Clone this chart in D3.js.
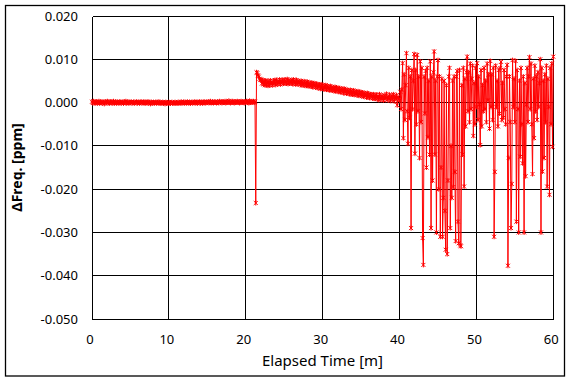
<!DOCTYPE html>
<html><head><meta charset="utf-8">
<script src="https://cdn.jsdelivr.net/npm/d3@7/dist/d3.min.js"></script>
<style>html,body{margin:0;padding:0;background:#fff;}svg{display:block;}</style>
</head><body>
<svg id="c" width="570" height="381"></svg>
<script>
// Sampling: one reading every 0.1 minute, starting at t = 0
const sampleStartMin = 0;
const sampleStepMin = 0.1;
// ΔFreq values in units of 0.001 ppm, one per sample (0.0 .. 60.0 min)
const dFreqMilliPpm = [
// 0-21.2 min : flat
0.2,-0.1,0.3,0.0,-0.2,0.1,0.2,-0.1,0.0,0.3,
-0.2,0.1,0.0,0.2,-0.1,0.1,-0.3,0.2,0.0,0.1,
0.3,-0.1,0.1,-0.2,0.2,0.0,0.1,-0.1,0.3,-0.2,
0.0,0.2,-0.1,0.1,0.0,-0.2,0.2,0.1,-0.1,0.0,
0.1,-0.2,0.2,0.0,0.3,-0.1,0.0,0.1,-0.2,0.1,
0.0,0.2,-0.1,0.0,0.1,-0.2,0.1,0.0,0.2,-0.1,
0.1,0.0,-0.2,0.1,0.2,-0.1,0.0,0.1,-0.1,0.2,
-0.2,0.0,0.1,-0.1,0.2,0.0,-0.3,0.1,0.0,-0.1,
0.1,-0.2,0.0,0.1,-0.1,0.0,0.2,-0.2,0.1,-0.1,
0.0,-0.2,0.1,-0.1,0.0,-0.3,0.1,-0.1,0.0,-0.2,
0.1,-0.1,-0.2,0.0,0.1,-0.2,0.0,-0.1,0.1,-0.2,
0.0,-0.1,0.1,-0.2,0.0,-0.1,0.2,-0.1,0.0,0.1,
-0.2,0.1,0.0,-0.1,0.2,0.0,-0.1,0.1,-0.2,0.0,
0.1,-0.1,0.0,0.2,-0.1,0.1,0.0,-0.2,0.1,0.0,
0.2,-0.1,0.1,0.0,-0.2,0.1,0.2,0.0,-0.1,0.1,
0.0,0.2,-0.1,0.1,0.3,-0.1,0.0,0.2,-0.1,0.1,
0.2,0.0,-0.1,0.2,0.1,-0.1,0.3,0.0,0.1,-0.1,
0.2,0.1,0.0,0.3,-0.1,0.1,0.2,0.0,0.4,0.1,
-0.1,0.2,0.0,0.3,0.1,-0.1,0.2,0.0,0.1,0.3,
0.0,0.2,-0.1,0.1,0.3,0.0,0.2,0.1,-0.1,0.2,
0.1,0.3,0.0,0.2,-0.1,0.4,0.1,0.0,0.2,0.1,
0.3,0.0,0.2,
// 21.3 spike, 21.4 jump
-23.2,
7.0,6.8,6.3,6.0,5.5,5.2,
5.3,4.4,5.2,4.2,5.0,4.0,5.1,4.1,4.9,3.9,
4.9,4.0,5.1,4.2,4.8,4.0,5.0,4.3,5.2,4.1,
5.2,4.3,5.0,4.4,5.3,4.2,5.1,4.5,5.2,4.4,
5.3,4.4,5.1,4.5,5.4,4.3,5.2,4.5,5.0,4.4,
5.2,4.3,5.3,4.4,5.1,4.2,5.2,4.3,5.0,4.4,
4.9,4.1,5.0,4.0,4.8,4.1,4.9,3.9,4.7,3.9,
4.8,3.8,4.6,3.9,4.5,3.7,4.6,3.6,4.4,3.7,
4.4,3.5,4.3,3.4,4.2,3.5,4.1,3.2,4.2,3.3,
4.0,3.1,3.9,3.2,4.0,3.0,3.8,3.0,3.7,2.9,
3.8,2.8,3.6,2.9,3.5,2.7,3.6,2.6,3.4,2.7,
3.4,2.5,3.3,2.4,3.2,2.5,3.1,2.2,3.2,2.3,
3.0,2.1,2.9,2.2,2.8,2.0,2.9,1.9,2.7,1.9,
2.8,1.8,2.6,1.9,2.5,1.7,2.6,1.6,2.4,1.7,
2.4,1.5,2.3,1.4,2.2,1.5,2.1,1.2,2.2,1.3,
2.0,1.1,1.9,1.2,1.8,1.0,1.9,0.9,1.7,0.9,
1.8,0.9,1.5,0.6,1.9,1.1,0.7,1.6,1.2,0.5,
1.7,0.8,1.4,2.0,0.6,1.3,0.9,1.8,0.4,1.2,
1.6,0.7,1.9,0.3,1.4,0.9,1.7,-0.6,1.3,0.8,
// 40-60 min : unstable
0.5,2.5,-1.5,3.0,9.1,-8.2,6.5,-4.0,4.0,11.4,
-2.0,-9.5,8.0,-3.5,6.0,-29.0,7.5,-1.5,5.0,11.2,
-11.8,7.5,-5.0,11.0,-2.0,6.0,-12.8,9.5,-4.5,8.0,
-31.3,-37.5,6.0,-2.5,7.3,-15.0,8.0,-8.0,5.0,-12.0,
9.5,-29.0,6.0,-18.0,7.0,11.8,-12.0,5.0,-30.0,6.0,
9.8,-20.0,6.0,-31.0,-15.0,5.5,-31.0,-22.0,5.0,-25.0,
-34.0,4.0,-35.0,-18.0,6.0,8.0,-29.0,-10.0,-22.0,5.0,
-19.5,6.0,-16.0,-32.0,6.0,7.3,-27.5,-32.5,7.5,-33.0,
-33.2,4.0,-12.0,8.0,-19.4,5.5,-5.5,7.0,10.6,-2.0,
7.0,-4.5,9.0,-1.5,5.5,8.5,-7.7,4.5,-5.0,8.0,
-1.0,9.1,-4.0,6.0,-0.5,-9.8,7.5,-5.5,4.0,-2.0,
8.0,-1.5,5.0,-4.5,9.0,0.5,6.5,-6.0,9.6,-1.0,
6.5,-4.0,8.0,-31.0,-16.0,8.5,-1.0,5.0,-5.5,7.5,
-2.5,8.0,9.4,-4.0,4.5,-3.5,7.5,-1.5,-5.0,6.0,
8.7,-37.7,-12.8,6.0,-4.5,-29.0,-18.8,9.8,-1.0,5.5,
-4.5,9.6,-27.5,7.5,-1.5,-30.0,5.0,-12.5,8.0,-5.0,
-14.0,6.0,-30.0,4.5,-17.0,-0.5,8.0,-4.5,6.0,10.5,
-1.5,9.0,-5.0,-16.5,5.5,-8.2,8.5,-2.0,6.0,-4.0,
7.0,-1.0,4.5,10.0,-30.0,8.0,-15.9,5.0,-12.8,6.5,
-4.5,8.5,-19.4,5.5,-1.0,-21.3,8.0,-5.0,9.0,-10.2,
10.6
];
const xTicks = [0,10,20,30,40,50,60];
const yTicks = [0.020,0.010,0.000,-0.010,-0.020,-0.030,-0.040,-0.050];
const xTitle = "Elapsed Time [m]";
const yTitle = "\u0394Freq. [ppm]";

const data = dFreqMilliPpm.map((v,i)=>({t: sampleStartMin + i*sampleStepMin, v: v/1000}));

const svg = d3.select("#c");
const x = d3.scaleLinear().domain([0,60]).range([92,553.3]);
const y = d3.scaleLinear().domain([-0.05,0.02]).range([319,16]);
const px = v => Math.floor(v)+0.5;

// outer frame
svg.append("rect").attr("x",5.5).attr("y",5.5).attr("width",559).attr("height",370.5)
  .attr("fill","none").attr("stroke","#000").attr("stroke-width",1.3);

// grid
const g = svg.append("g").attr("stroke","#000").attr("stroke-width",1).attr("shape-rendering","crispEdges");
g.selectAll("line.v").data(xTicks).join("line").attr("class","v")
  .attr("x1",d=>px(x(d))).attr("x2",d=>px(x(d))).attr("y1",px(y(0.02))).attr("y2",px(y(-0.05)));
g.selectAll("line.h").data(yTicks).join("line").attr("class","h")
  .attr("y1",d=>px(y(d))).attr("y2",d=>px(y(d))).attr("x1",px(x(0))).attr("x2",px(x(60)));

// tick labels
const font = "'Noto Sans', 'Open Sans', sans-serif";
svg.append("g").selectAll("text").data(yTicks).join("text")
  .attr("x",78).attr("y",d=>y(d)).attr("dy","0.35em").attr("text-anchor","end")
  .attr("font-family",font).attr("font-size",13).attr("fill","#000")
  .text(d=>d3.format(".3f")(d).replace("−","-"));
svg.append("g").selectAll("text").data(xTicks).join("text")
  .attr("x",d=>x(d)-2).attr("y",339.5).attr("dy","0.35em").attr("text-anchor","middle")
  .attr("font-family",font).attr("font-size",13).attr("fill","#000")
  .text(d=>d);

// titles
svg.append("text").attr("x",322.5).attr("y",366).attr("text-anchor","middle")
  .attr("font-family",font).attr("font-size",15).attr("fill","#000").text(xTitle);
svg.append("text").attr("transform","translate(22,167.5) rotate(-90)").attr("text-anchor","middle")
  .attr("font-family",font).attr("font-size",14).attr("font-weight","bold").attr("fill","#000").text(yTitle);

// series line
const line = d3.line().x(d=>x(d.t)).y(d=>y(d.v));
svg.append("path").datum(data).attr("d",line).attr("fill","none").attr("stroke","#ff0000").attr("stroke-width",1);

// star markers
const star = "M-2,-2L2,2M-2,2L2,-2M0,-2.5L0,2.5";
svg.append("g").selectAll("path").data(data).join("path")
  .attr("transform",d=>`translate(${x(d.t)},${y(d.v)})`)
  .attr("d",star).attr("fill","none").attr("stroke","#ff0000").attr("stroke-width",1);
</script>
</body></html>
